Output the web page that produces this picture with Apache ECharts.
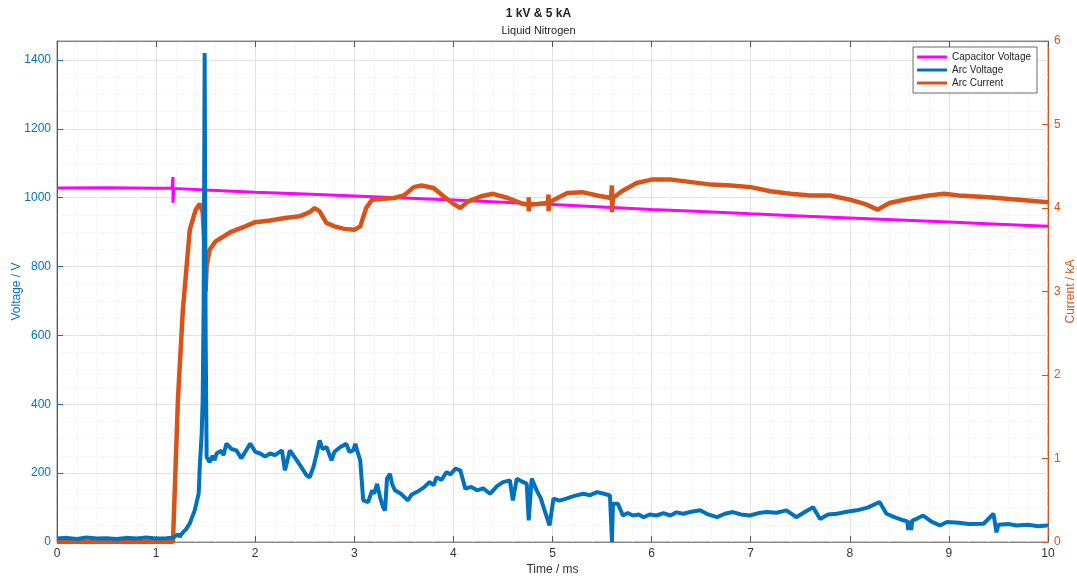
<!DOCTYPE html>
<html>
<head>
<meta charset="utf-8">
<script src="https://cdn.jsdelivr.net/npm/echarts@6/dist/echarts.min.js"></script>
<style>
  html, body { margin: 0; padding: 0; background: #fff; }
  #chart { width: 1077px; height: 580px; }
</style>
</head>
<body>
<div id="chart"></div>
<script>
// [time (ms), voltage (V)]
const capacitorVoltage = [
  [0, 1028], [0.5, 1029], [1.0, 1027], [1.16, 1027], [1.17, 1060], [1.17, 985], [1.18, 1027],
  [1.5, 1022], [2.0, 1016], [2.5, 1011], [3.0, 1005], [3.5, 999], [4.0, 993], [4.5, 987],
  [5.0, 980], [5.5, 973], [6.0, 966], [6.5, 960], [7.0, 953], [7.5, 947], [8.0, 941],
  [8.5, 935], [9.0, 929], [9.5, 923], [10, 917]
];

// [time (ms), voltage (V)]
const arcVoltage = [
  [0, 10], [0.1, 12], [0.2, 9], [0.3, 13], [0.4, 10], [0.5, 11], [0.6, 9], [0.7, 12],
  [0.8, 10], [0.9, 13], [1.0, 10], [1.1, 11], [1.17, 12],
  [1.19, 14], [1.22, 22], [1.24, 16], [1.27, 28], [1.3, 36], [1.34, 54], [1.39, 92],
  [1.43, 141], [1.44, 217], [1.46, 315], [1.47, 411], [1.48, 700], [1.49, 1420], [1.50, 600],
  [1.51, 247], [1.54, 232], [1.57, 250], [1.59, 238], [1.61, 257], [1.66, 265], [1.68, 252],
  [1.71, 286], [1.76, 270], [1.81, 266], [1.86, 243], [1.9, 262], [1.95, 286], [2.0, 262],
  [2.05, 257], [2.1, 248], [2.15, 257], [2.2, 252], [2.27, 266], [2.30, 208], [2.35, 266],
  [2.42, 237], [2.47, 215], [2.52, 193], [2.55, 188], [2.59, 220], [2.62, 256], [2.65, 295],
  [2.68, 270], [2.72, 276], [2.77, 237], [2.8, 262], [2.86, 276], [2.92, 285], [2.95, 262],
  [2.99, 266], [3.01, 285], [3.04, 255], [3.06, 237], [3.09, 121], [3.14, 116], [3.18, 150],
  [3.2, 140], [3.23, 169], [3.26, 130], [3.29, 101], [3.31, 92], [3.33, 184], [3.36, 198],
  [3.38, 170], [3.41, 150], [3.47, 140], [3.54, 121], [3.58, 138], [3.63, 145], [3.7, 158],
  [3.76, 174], [3.8, 165], [3.83, 188], [3.88, 180], [3.93, 203], [3.97, 196], [4.02, 213],
  [4.07, 208], [4.12, 155], [4.18, 160], [4.24, 150], [4.3, 156], [4.37, 140], [4.44, 162],
  [4.50, 174], [4.57, 179], [4.60, 121], [4.64, 184], [4.69, 176], [4.74, 169], [4.76, 63],
  [4.79, 184], [4.84, 150], [4.88, 128], [4.92, 92], [4.97, 48], [5.01, 126], [5.07, 120],
  [5.14, 126], [5.22, 134], [5.31, 140], [5.38, 136], [5.45, 145], [5.52, 140], [5.58, 135],
  [5.60, 0], [5.61, 111], [5.66, 111], [5.71, 77], [5.76, 84], [5.81, 77], [5.87, 80],
  [5.92, 72], [5.98, 80], [6.05, 77], [6.12, 84], [6.19, 77], [6.25, 86], [6.32, 82],
  [6.4, 88], [6.49, 92], [6.57, 80], [6.66, 72], [6.74, 82], [6.82, 87], [6.9, 80], [6.99, 77],
  [7.08, 84], [7.16, 87], [7.26, 85], [7.36, 92], [7.46, 72], [7.55, 88], [7.63, 101],
  [7.70, 67], [7.78, 80], [7.87, 82], [7.97, 88], [8.07, 92], [8.18, 100], [8.30, 116],
  [8.37, 82], [8.45, 72], [8.54, 63], [8.58, 60], [8.59, 35], [8.60, 62], [8.62, 35], [8.63, 62],
  [8.68, 68], [8.74, 77], [8.82, 60], [8.91, 48], [8.98, 58], [9.1, 56], [9.2, 52], [9.35, 53],
  [9.45, 82], [9.48, 28], [9.5, 50], [9.6, 52], [9.68, 48], [9.8, 50], [9.9, 46], [9.99, 48],
  [10, 45]
];

// [time (ms), current (kA)]
const arcCurrent = [
  [0, 0], [1.17, 0], [1.22, 1.7], [1.27, 2.78], [1.34, 3.74], [1.40, 3.98], [1.44, 4.05],
  [1.47, 3.95], [1.49, 3.5], [1.50, 3.0], [1.51, 3.3], [1.54, 3.5], [1.6, 3.6], [1.75, 3.71],
  [1.9, 3.78], [2.0, 3.83], [2.15, 3.85], [2.3, 3.88], [2.45, 3.9], [2.55, 3.95], [2.6, 4.0],
  [2.65, 3.96], [2.72, 3.82], [2.8, 3.78], [2.9, 3.75], [3.0, 3.74], [3.06, 3.78], [3.12, 4.0],
  [3.18, 4.1], [3.3, 4.11], [3.4, 4.12], [3.5, 4.15], [3.6, 4.25], [3.68, 4.27], [3.8, 4.24],
  [3.9, 4.14], [4.0, 4.05], [4.07, 4.0], [4.15, 4.08], [4.28, 4.14], [4.4, 4.17], [4.55, 4.12],
  [4.7, 4.05], [4.76, 4.04], [4.76, 4.13], [4.76, 3.96], [4.77, 4.04], [4.95, 4.06],
  [4.96, 4.16], [4.96, 3.96], [4.97, 4.07], [5.05, 4.12], [5.15, 4.18], [5.3, 4.19],
  [5.45, 4.15], [5.59, 4.12], [5.6, 4.27], [5.6, 3.95], [5.61, 4.12], [5.7, 4.2], [5.85, 4.3],
  [6.0, 4.34], [6.2, 4.34], [6.4, 4.31], [6.6, 4.28], [6.8, 4.27], [7.0, 4.25], [7.2, 4.2],
  [7.4, 4.17], [7.6, 4.15], [7.8, 4.15], [8.0, 4.1], [8.15, 4.05], [8.28, 3.98], [8.4, 4.06],
  [8.6, 4.11], [8.8, 4.15], [8.95, 4.17], [9.1, 4.15], [9.4, 4.13], [9.7, 4.1], [10, 4.07]
];

const blue = '#0072BD';
const orange = '#D95319';
const magenta = '#FF00FF';
const font = '"Liberation Sans", Arial, sans-serif';
const plain = v => String(v);

var chart = echarts.init(document.getElementById('chart'));

var option = {
  animation: false,
  backgroundColor: '#fff',
  textStyle: { fontFamily: font },
  title: {
    text: '1 kV & 5 kA',
    subtext: 'Liquid Nitrogen',
    left: 'center',
    top: 3,
    itemGap: 5,
    textStyle: { fontSize: 12, fontWeight: 'bold', color: '#222', fontFamily: font },
    subtextStyle: { fontSize: 11, color: '#222', fontFamily: font }
  },
  legend: {
    orient: 'vertical',
    right: 40,
    top: 47,
    padding: [5, 6, 5, 4],
    itemGap: 3,
    itemWidth: 30,
    itemHeight: 3,
    icon: 'rect',
    backgroundColor: '#fff',
    borderColor: '#444',
    borderWidth: 0.8,
    borderRadius: 0,
    textStyle: { fontSize: 10, color: '#222', fontFamily: font },
    data: ['Capacitor Voltage', 'Arc Voltage', 'Arc Current']
  },
  grid: {
    left: 57,
    right: 29,
    top: 41,
    bottom: 38,
    outerBoundsMode: 'none',
    containLabel: false,
    show: true,
    borderColor: '#888',
    borderWidth: 1
  },
  xAxis: [
    {
      type: 'value',
      min: 0,
      max: 10,
      interval: 1,
      name: 'Time / ms',
      nameLocation: 'middle',
      nameGap: 22,
      nameMoveOverlap: false,
      nameTextStyle: { fontSize: 12, color: '#333' },
      axisLine: { onZero: false, lineStyle: { color: '#888' } },
      axisTick: { inside: true, length: 6, lineStyle: { color: '#555' } },
      axisLabel: { fontSize: 12, color: '#333', margin: 6, formatter: plain },
      splitLine: { show: true, lineStyle: { color: '#e2e2e2' } },
      minorTick: { show: false, splitNumber: 5 },
      minorSplitLine: { show: true, lineStyle: { color: '#f0f0f0', type: 'dotted' } }
    },
    {
      type: 'value',
      min: 0,
      max: 10,
      interval: 1,
      position: 'top',
      axisLine: { show: true, onZero: false, lineStyle: { color: '#888' } },
      axisTick: { inside: true, length: 6, lineStyle: { color: '#555' } },
      axisLabel: { show: false },
      splitLine: { show: false }
    }
  ],
  yAxis: [
    {
      type: 'value',
      min: 0,
      max: 1455,
      interval: 200,
      position: 'left',
      name: 'Voltage / V',
      nameLocation: 'middle',
      nameGap: 34,
      nameMoveOverlap: false,
      nameTextStyle: { fontSize: 12, color: blue },
      axisLine: { show: true, onZero: false, lineStyle: { color: blue } },
      axisTick: { show: true, inside: true, length: 6, lineStyle: { color: blue } },
      axisLabel: { fontSize: 12, color: blue, margin: 6, showMaxLabel: false, formatter: plain },
      splitLine: { show: true, lineStyle: { color: '#e2e2e2' } },
      minorTick: { show: false, splitNumber: 4 },
      minorSplitLine: { show: true, lineStyle: { color: '#f0f0f0', type: 'dotted' } }
    },
    {
      type: 'value',
      min: 0,
      max: 6,
      interval: 1,
      position: 'right',
      name: 'Current / kA',
      nameLocation: 'middle',
      nameGap: 17,
      nameMoveOverlap: false,
      nameTextStyle: { fontSize: 12, color: orange },
      axisLine: { show: true, onZero: false, lineStyle: { color: orange } },
      axisTick: { show: true, inside: true, length: 6, lineStyle: { color: orange } },
      axisLabel: { fontSize: 12, color: orange, margin: 6, formatter: plain },
      splitLine: { show: false }
    }
  ],
  series: [
    {
      name: 'Capacitor Voltage',
      type: 'line',
      xAxisIndex: 0,
      yAxisIndex: 0,
      data: capacitorVoltage,
      showSymbol: false,
      color: magenta,
      lineStyle: { width: 3, color: magenta },
      z: 2
    },
    {
      name: 'Arc Voltage',
      type: 'line',
      xAxisIndex: 0,
      yAxisIndex: 0,
      data: arcVoltage,
      showSymbol: false,
      color: blue,
      lineStyle: { width: 4, color: blue },
      z: 4
    },
    {
      name: 'Arc Current',
      type: 'line',
      xAxisIndex: 0,
      yAxisIndex: 1,
      data: arcCurrent,
      showSymbol: false,
      color: orange,
      lineStyle: { width: 4.5, color: orange },
      z: 3
    }
  ]
};

chart.setOption(option);
</script>
</body>
</html>
